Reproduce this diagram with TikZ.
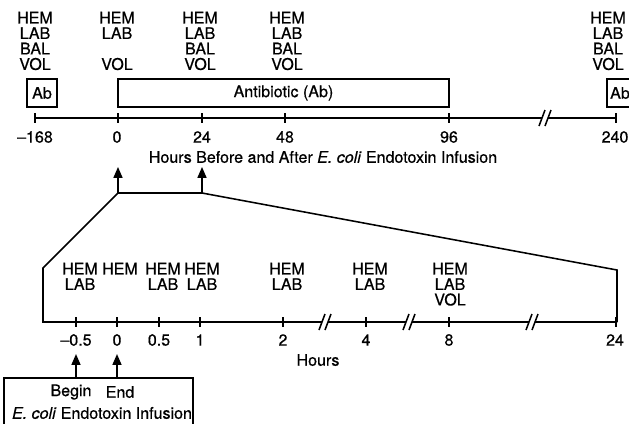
\documentclass[tikz,border=0pt]{standalone}
\usepackage{fontspec}
\setmainfont[FakeBold=0.6]{TeX Gyre Heros}
\usetikzlibrary{arrows.meta}

\begin{document}
\begin{tikzpicture}[x=0.025cm,y=-0.025cm,line width=1.1pt,
  every node/.style={font=\fontsize{11.4}{11}\selectfont,inner sep=0pt,align=center},
  box/.style={draw,line width=1.1pt,minimum height=0.7cm},
  uparrow/.style={-{Triangle[length=8pt,width=6pt]},line width=2pt}]
\useasboundingbox (0,0) rectangle (629,423);
\clip (0,0) rectangle (629,423);

% upper time line
\node[anchor=north] (s168) at (35,11) {HEM\\LAB\\BAL\\VOL};
\node[anchor=north] (s0) at (117,11) {HEM\\LAB\\~\\VOL};
\node[anchor=north] (s24) at (200,11) {HEM\\LAB\\BAL\\VOL};
\node[anchor=north] (s48) at (287,11) {HEM\\LAB\\BAL\\VOL};
\node[anchor=north] (s240) at (608,11) {HEM\\LAB\\BAL\\VOL};

\node[box,minimum width=0.75cm] (ab1) at (42,93) {Ab};
\node[box,minimum width=8.275cm] (abx) at (283.5,93) {Antibiotic (Ab)};
\node[box,minimum width=0.65cm] (ab2) at (620,93) {Ab};

\draw (35,118) -- (616,118);
\draw (35,113) -- (35,123) (118,113) -- (118,123) (202,113) -- (202,123)
      (285,113) -- (285,123) (449,113) -- (449,123) (616,113) -- (616,123);
\fill[white] (542,116) rectangle (548,120);
\draw (539,126) -- (545,110) (545,126) -- (551,110);

\node (t168) at (35,137) {--168}; \node (t0) at (117,137) {0};
\node (t24) at (202,137) {24}; \node (t48) at (285,137) {48};
\node (t96) at (449,137) {96}; \node (t240) at (615,137) {240};
\node (hrs) at (323,157) {Hours Before and After \textit{E. coli} Endotoxin Infusion};

% zoom of the first day
\coordinate (c0) at (118,193); \coordinate (c24) at (202,193);
\coordinate (cl) at (43,268); \coordinate (cr) at (617,270);
\draw (617,322) -- (cr) -- (c24) -- (c0) -- (cl) -- (43,322) -- (617,322);
\draw[uparrow,shorten >=2pt] (c0) -- (c0 |- hrs.south);
\draw[uparrow,shorten >=2pt] (c24) -- (c24 |- hrs.south);

\node[anchor=north] (h05) at (80,262) {HEM\\LAB};
\node[anchor=north] (h0) at (120,262) {HEM};
\node[anchor=north] (h05b) at (163,262) {HEM\\LAB};
\node[anchor=north] (h1) at (202,262) {HEM\\LAB};
\node[anchor=north] (h2) at (287,262) {HEM\\LAB};
\node[anchor=north] (h4) at (370,262) {HEM\\LAB};
\node[anchor=north] (h8) at (450,262) {HEM\\LAB\\VOL};

\draw (76,317) -- (76,327) (117,317) -- (117,327) (159,317) -- (159,327)
      (200,317) -- (200,327) (283,317) -- (283,327) (366,317) -- (366,327)
      (449,317) -- (449,327) (616,317) -- (616,327);
\fill[white] (322,320) rectangle (328,324);
\draw (319,330) -- (325,314) (325,330) -- (331,314);
\fill[white] (406,320) rectangle (412,324);
\draw (403,330) -- (409,314) (409,330) -- (415,314);
\fill[white] (529,320) rectangle (535,324);
\draw (526,330) -- (532,314) (532,330) -- (538,314);

\node (m05) at (76,340) {--0.5}; \node (m0) at (117,340) {0};
\node (p05) at (159,340) {0.5}; \node (p1) at (200,340) {1};
\node (p2) at (283,340) {2}; \node (p4) at (366,340) {4};
\node (p8) at (449,340) {8}; \node (p24) at (615,340) {24};
\node (hours) at (318,360) {Hours};

% infusion
\node[draw,minimum width=4.725cm,minimum height=1.3cm] (inf) at (98.5,404) {};
\node (beg) at (71,392) {Begin}; \node (end) at (120,392) {End};
\node (eci) at (102,413) {\textit{E. coli} Endotoxin Infusion};
\draw[uparrow,shorten >=5pt] (inf.north -| m05.south) -- (m05.south);
\draw[uparrow,shorten >=5pt] (inf.north -| m0.south) -- (m0.south);

\end{tikzpicture}
\end{document}
